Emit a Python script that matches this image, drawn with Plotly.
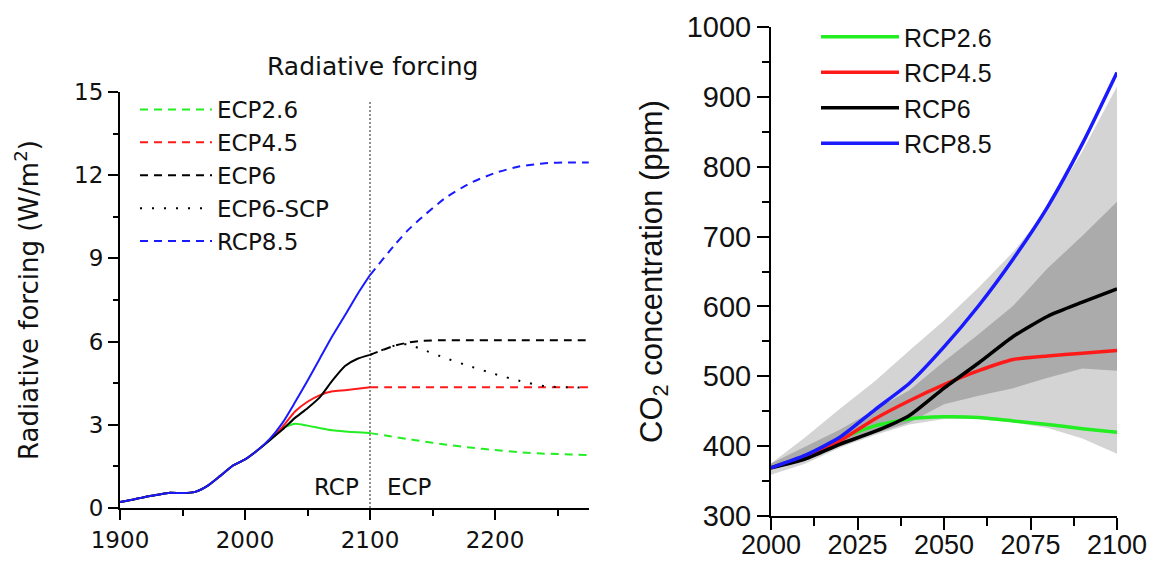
import plotly.graph_objects as go

# ---------------- Left panel: radiative forcing ----------------
hist_years = [1900, 1910, 1920, 1930, 1940, 1950, 1960, 1970, 1980, 1990, 2000, 2010]
hist_rf = [0.22, 0.30, 0.40, 0.48, 0.55, 0.54, 0.58, 0.80, 1.15, 1.52, 1.75, 2.08]

rcp_years = [2010, 2020, 2030, 2040, 2050, 2060, 2070, 2080, 2090, 2100]
rcp26_rf = [2.08, 2.45, 2.87, 3.04, 2.97, 2.88, 2.80, 2.76, 2.73, 2.70]
rcp45_rf = [2.08, 2.47, 2.92, 3.48, 3.83, 4.07, 4.21, 4.25, 4.30, 4.35]
rcp6_rf = [2.08, 2.45, 2.83, 3.25, 3.60, 4.00, 4.60, 5.12, 5.38, 5.52]
rcp85_rf = [2.08, 2.50, 3.07, 3.81, 4.59, 5.40, 6.21, 6.95, 7.71, 8.40]

ecp_years = [2100, 2120, 2130, 2140, 2160, 2180, 2200, 2220, 2240, 2260, 2275]
ecp26_rf = [2.70, 2.56, 2.49, 2.42, 2.29, 2.18, 2.09, 2.01, 1.96, 1.93, 1.91]
ecp45_rf = [4.35, 4.35, 4.35, 4.35, 4.35, 4.35, 4.35, 4.35, 4.35, 4.35, 4.35]
ecp6_rf = [5.52, 5.86, 5.96, 6.02, 6.05, 6.05, 6.05, 6.05, 6.05, 6.05, 6.05]
ecp6_scp_rf = [5.52, 5.86, 5.90, 5.75, 5.41, 5.11, 4.83, 4.58, 4.39, 4.35, 4.35]
ecp85_rf = [8.40, 9.50, 10.00, 10.42, 11.17, 11.71, 12.08, 12.32, 12.43, 12.46, 12.46]

divider_year = 2100
divider_span = [0, 14.7]

# ---------------- Right panel: CO2 concentration ----------------
co2_years = [2000, 2010, 2020, 2030, 2040, 2050, 2060, 2070, 2080, 2090, 2100]
co2_rcp26 = [369, 386, 411, 429, 439, 442, 441, 436, 431, 425, 420]
co2_rcp45 = [369, 386, 408, 439, 465, 488, 508, 524, 529, 533, 537]
co2_rcp6 = [369, 382, 403, 421, 444, 483, 519, 557, 586, 606, 625]
co2_rcp85 = [369, 387, 413, 452, 490, 542, 601, 668, 743, 833, 935]

outer_upper = [375, 413, 454, 493, 537, 580, 627, 678, 740, 822, 915]
outer_lower = [359, 375, 398, 416, 431, 439, 439, 434, 426, 411, 389]
inner_upper = [375, 400, 424, 452, 480, 521, 560, 601, 655, 701, 750]
inner_lower = [367, 380, 400, 418, 434, 460, 472, 483, 498, 511, 508]

GREEN = "#22ee22"
RED = "#ff1a1a"
BLACK = "#000000"
BLUE = "#1a1aff"
LFONT = "DejaVu Sans"
RFONT = "Liberation Sans"

fig = go.Figure()

# left: solid RCP parts (history shared)
for vals, col in [(rcp26_rf, GREEN), (rcp45_rf, RED), (rcp6_rf, BLACK), (rcp85_rf, BLUE)]:
    fig.add_trace(go.Scatter(
        x=hist_years + rcp_years[1:], y=hist_rf + vals[1:],
        mode="lines", line=dict(color=col, width=2, shape="spline", smoothing=0.6),
        showlegend=False, xaxis="x", yaxis="y", hoverinfo="skip"))

# divider
fig.add_trace(go.Scatter(
    x=[divider_year, divider_year], y=divider_span, mode="lines",
    line=dict(color="#444444", width=1.2, dash="2px,2px"),
    showlegend=False, xaxis="x", yaxis="y", hoverinfo="skip"))

# left: ECP extensions
ecp = [
    ("ECP2.6", ecp26_rf, GREEN, "8px,6px"),
    ("ECP4.5", ecp45_rf, RED, "8px,6px"),
    ("ECP6", ecp6_rf, BLACK, "8px,6px"),
    ("ECP6-SCP", ecp6_scp_rf, BLACK, "2px,10px"),
    ("RCP8.5", ecp85_rf, BLUE, "8px,6px"),
]
for i, (name, vals, col, dash) in enumerate(ecp):
    fig.add_trace(go.Scatter(
        x=ecp_years, y=vals, name=name, mode="lines",
        line=dict(color=col, width=2, dash=dash, shape="spline", smoothing=0.6),
        xaxis="x", yaxis="y", legend="legend", legendrank=i + 1))

# right: uncertainty bands
fig.add_trace(go.Scatter(x=co2_years, y=outer_lower, mode="lines", line=dict(width=0),
                         showlegend=False, xaxis="x2", yaxis="y2", hoverinfo="skip"))
fig.add_trace(go.Scatter(x=co2_years, y=outer_upper, mode="lines", line=dict(width=0),
                         fill="tonexty", fillcolor="#d4d4d4",
                         showlegend=False, xaxis="x2", yaxis="y2", hoverinfo="skip"))
fig.add_trace(go.Scatter(x=co2_years, y=inner_lower, mode="lines", line=dict(width=0),
                         showlegend=False, xaxis="x2", yaxis="y2", hoverinfo="skip"))
fig.add_trace(go.Scatter(x=co2_years, y=inner_upper, mode="lines", line=dict(width=0),
                         fill="tonexty", fillcolor="#ababab",
                         showlegend=False, xaxis="x2", yaxis="y2", hoverinfo="skip"))

right_lines = [
    ("RCP2.6", co2_rcp26, GREEN, 1),
    ("RCP4.5", co2_rcp45, RED, 2),
    ("RCP6", co2_rcp6, BLACK, 3),
    ("RCP8.5", co2_rcp85, BLUE, 4),
]
for name, vals, col, rank in right_lines:
    fig.add_trace(go.Scatter(
        x=co2_years, y=vals, name=name, mode="lines",
        line=dict(color=col, width=3.5, shape="spline", smoothing=0.6),
        xaxis="x2", yaxis="y2", legend="legend2", legendrank=rank))

# page body has an 8px margin; figure positions are computed in window pixels
OFF = 8
W, H = 1159 - OFF, 564 - OFF
def px_x(p):
    return (p - OFF) / W
def px_y(p):
    return 1 - (p - OFF) / H

axis_common = dict(showline=True, linecolor="black", linewidth=2, ticks="outside",
                   tickcolor="black", tickwidth=2, showgrid=False, zeroline=False,
                   mirror=False, automargin=False)

fig.update_layout(
    width=W, height=H,
    margin=dict(l=0, r=0, t=0, b=0),
    paper_bgcolor="white", plot_bgcolor="white",
    font=dict(family=RFONT, color="#111111"),
    xaxis=dict(domain=[px_x(120), px_x(589)], range=[1900, 2275.2], anchor="y",
               tickvals=[1900, 2000, 2100, 2200], ticklen=10,
               minor=dict(dtick=50, tick0=1900, ticks="outside", ticklen=6, tickwidth=2, tickcolor="black"),
               tickfont=dict(size=23, family=LFONT), **axis_common),
    yaxis=dict(domain=[px_y(508), px_y(92)], range=[0, 15], anchor="x",
               tickvals=[0, 3, 6, 9, 12, 15], ticklen=10,
               minor=dict(dtick=1.5, tick0=0, ticks="outside", ticklen=5, tickwidth=2, tickcolor="black"),
               tickfont=dict(size=23, family=LFONT),
               title=dict(text="Radiative forcing (W/m<sup>2</sup>)", font=dict(size=26, family=LFONT),
                          standoff=28),
               **axis_common),
    xaxis2=dict(domain=[px_x(771), px_x(1117)], range=[2000, 2100], anchor="y2",
                tickvals=[2000, 2025, 2050, 2075, 2100], ticklen=12,
                minor=dict(dtick=12.5, tick0=2000, ticks="outside", ticklen=8, tickwidth=2, tickcolor="black"),
                tickfont=dict(size=27), ticklabelstandoff=-8, **axis_common),
    yaxis2=dict(domain=[px_y(516), px_y(27)], range=[300, 1000], anchor="x2",
                tickvals=[300, 400, 500, 600, 700, 800, 900, 1000], ticklen=12,
                minor=dict(dtick=50, tick0=300, ticks="outside", ticklen=7, tickwidth=2, tickcolor="black"),
                tickfont=dict(size=29),
                title=dict(text="CO<sub>2</sub> concentration (ppm)", font=dict(size=31), standoff=15),
                **axis_common),
    legend=dict(x=px_x(135), y=px_y(88), xanchor="left", yanchor="top",
                bgcolor="rgba(0,0,0,0)", font=dict(size=23, family=LFONT), itemwidth=72,
                tracegroupgap=0, traceorder="normal"),
    legend2=dict(x=px_x(816), y=px_y(14), xanchor="left", yanchor="top",
                 bgcolor="rgba(0,0,0,0)", font=dict(size=25), itemwidth=78,
                 tracegroupgap=0, traceorder="normal"),
    annotations=[
        dict(text="Radiative forcing", xref="paper", yref="paper", x=px_x(372), y=px_y(66),
             xanchor="center", yanchor="middle", showarrow=False, font=dict(size=25, family=LFONT)),
        dict(text="RCP", xref="x", yref="y", x=2093, y=0.76, xanchor="right", yanchor="middle",
             showarrow=False, font=dict(size=23, family=LFONT)),
        dict(text="ECP", xref="x", yref="y", x=2112, y=0.76, xanchor="left", yanchor="middle",
             showarrow=False, font=dict(size=23, family=LFONT)),
    ],
)

fig.write_html("out.html")
